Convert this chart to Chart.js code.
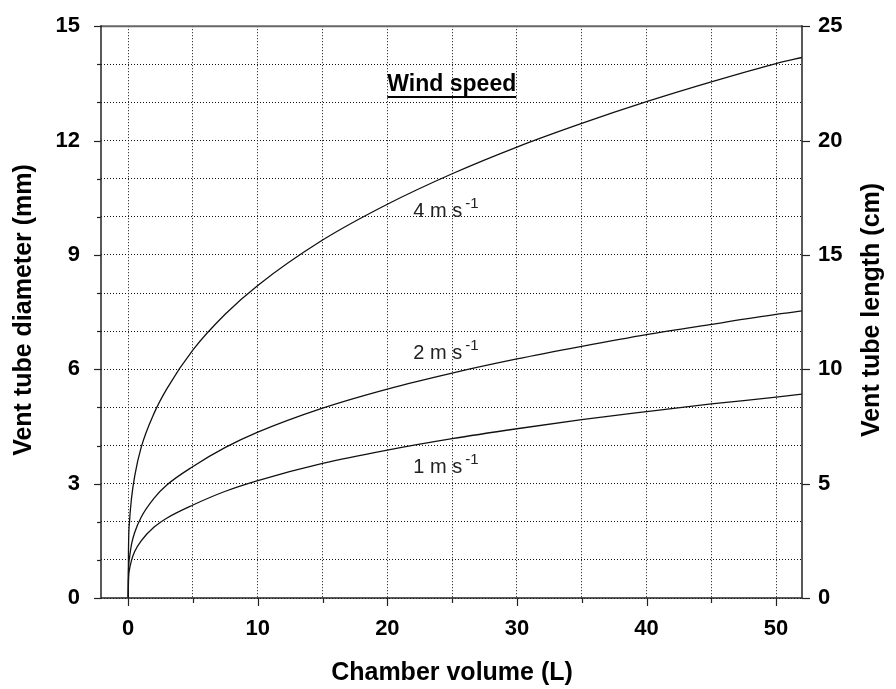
<!DOCTYPE html>
<html>
<head>
<meta charset="utf-8">
<script src="https://cdn.jsdelivr.net/npm/chart.js@4.4.1/dist/chart.umd.min.js"></script>
<style>
  html, body { margin: 0; padding: 0; background: #fff; }
  #wrap { width: 896px; height: 689px; }
</style>
</head>
<body>
<div id="wrap"><canvas id="myChart" width="896" height="689"></canvas></div>
<script>
// Datos
var volume = [0, 0.02, 0.1, 0.25, 0.5, 1, 2, 3, 5, 7.5, 10, 15, 20, 25, 30, 35, 40, 45, 50, 52];
var wind4 = [0, 1.2, 2.0, 2.6, 3.2, 3.95, 4.85, 5.5, 6.51, 7.45, 8.2, 9.39, 10.33, 11.13, 11.83, 12.45, 13.02, 13.54, 14.02, 14.18];
var wind2 = [0, 0.65, 1.05, 1.4, 1.72, 2.12, 2.62, 2.97, 3.45, 3.95, 4.35, 4.98, 5.48, 5.9, 6.27, 6.6, 6.91, 7.18, 7.44, 7.53];
var wind1 = [0, 0.45, 0.75, 0.98, 1.22, 1.5, 1.86, 2.1, 2.44, 2.8, 3.08, 3.53, 3.88, 4.18, 4.44, 4.68, 4.89, 5.09, 5.27, 5.35];

var xTicks = [0, 5, 10, 15, 20, 25, 30, 35, 40, 45, 50];
var yTicks = [0, 1, 2, 3, 4, 5, 6, 7, 8, 9, 10, 11, 12, 13, 14, 15];
var y2Ticks = [0, 5, 10, 15, 20, 25];

// etiquetas de las curvas (posicion en unidades de datos)
var curveLabels = ['4 m s', '2 m s', '1 m s'];
var labelX = [22, 22, 22];
var labelY = [10.0, 6.27, 3.27];

var FONT = '"Liberation Sans", Arial, sans-serif';

function pts(ys) {
  return volume.map(function (v, i) { return { x: v, y: ys[i] }; });
}

function lineSet(ys) {
  return {
    data: pts(ys),
    borderColor: '#111',
    borderWidth: 1.3,
    pointRadius: 0,
    fill: false,
    cubicInterpolationMode: 'monotone'
  };
}

var extras = {
  id: 'extras',
  afterDraw: function (chart) {
    var ctx = chart.ctx, a = chart.chartArea;
    var x = chart.scales.x, y = chart.scales.y, y2 = chart.scales.y2;
    ctx.save();

    function seg(x1, y1, x2, y2_) {
      ctx.beginPath(); ctx.moveTo(x1, y1); ctx.lineTo(x2, y2_); ctx.stroke();
    }

    // marco
    ctx.lineWidth = 2;
    ctx.strokeStyle = '#666';
    seg(a.left, a.top, a.right, a.top);
    ctx.strokeStyle = '#222';
    ctx.lineWidth = 1.5;
    seg(a.left, a.top - 1, a.left, a.bottom);
    seg(a.left, a.bottom, a.right, a.bottom);
    seg(a.right, a.top - 1, a.right, a.bottom);

    // marcas de los ejes
    ctx.lineWidth = 1.2;
    yTicks.forEach(function (v) {
      var py = Math.round(y.getPixelForValue(v)) + 0.5;
      seg(a.left - (v % 3 === 0 ? 7 : 4), py, a.left, py);
    });
    xTicks.forEach(function (v) {
      var px = Math.round(x.getPixelForValue(v)) + 0.5;
      seg(px, a.bottom, px, a.bottom + (v % 10 === 0 ? 8 : 5));
    });
    y2Ticks.forEach(function (v) {
      var py = Math.round(y2.getPixelForValue(v)) + 0.5;
      seg(a.right, py, a.right + 8, py);
    });

    // titulos de los ejes
    ctx.fillStyle = '#000';
    ctx.font = 'bold 25px ' + FONT;
    ctx.textAlign = 'center';
    ctx.textBaseline = 'middle';
    ctx.fillText('Chamber volume (L)', 452, 673);

    ctx.save();
    ctx.translate(24, 310);
    ctx.rotate(-Math.PI / 2);
    ctx.fillText('Vent tube diameter (mm)', 0, 0);
    ctx.restore();

    ctx.save();
    ctx.translate(872, 310);
    ctx.rotate(-Math.PI / 2);
    ctx.fillText('Vent tube length (cm)', 0, 0);
    ctx.restore();

    // leyenda "Wind speed"
    ctx.textAlign = 'left';
    ctx.textBaseline = 'alphabetic';
    ctx.font = 'bold 23px ' + FONT;
    var wx = x.getPixelForValue(20), wy = y.getPixelForValue(13.3);
    var ww = ctx.measureText('Wind speed').width;
    ctx.fillText('Wind speed', wx, wy);
    ctx.lineWidth = 2;
    ctx.strokeStyle = '#000';
    seg(wx, wy + 6, wx + ww, wy + 6);

    // etiquetas de las curvas con superindice
    ctx.fillStyle = '#222';
    curveLabels.forEach(function (t, i) {
      var px = x.getPixelForValue(labelX[i]), py = y.getPixelForValue(labelY[i]);
      ctx.font = '20px ' + FONT;
      ctx.fillText(t, px, py);
      var w = ctx.measureText(t).width;
      ctx.font = '15px ' + FONT;
      ctx.fillText('-1', px + w + 3, py - 9);
    });

    ctx.restore();
  }
};

var ctx = document.getElementById('myChart').getContext('2d');

var data = {
  datasets: [lineSet(wind4), lineSet(wind2), lineSet(wind1)]
};

var options = {
  responsive: false,
  animation: false,
  layout: { padding: { top: 26, left: 0, right: 0, bottom: 0 } },
  plugins: { legend: { display: false }, tooltip: { enabled: false } },
  scales: {
    x: {
      type: 'linear',
      min: -2.1,
      max: 52,
      afterBuildTicks: function (s) { s.ticks = xTicks.map(function (v) { return { value: v }; }); },
      afterFit: function (s) { s.height = 91; },
      ticks: {
        autoSkip: false,
        maxRotation: 0,
        padding: 10,
        color: '#000',
        font: { family: FONT, size: 22, weight: 'bold' },
        callback: function (v) { return v % 10 === 0 ? String(v) : ''; }
      },
      grid: { color: '#111', lineWidth: 1, tickLength: 8, tickColor: 'rgba(0,0,0,0)' },
      border: { display: false, dash: [1, 2] }
    },
    y: {
      type: 'linear',
      position: 'left',
      min: 0,
      max: 15,
      afterBuildTicks: function (s) { s.ticks = yTicks.map(function (v) { return { value: v }; }); },
      afterFit: function (s) { s.width = 101; },
      ticks: {
        autoSkip: false,
        padding: 13,
        color: '#000',
        font: { family: FONT, size: 22, weight: 'bold' },
        callback: function (v) { return v % 3 === 0 ? String(v) : ''; }
      },
      grid: { color: '#111', lineWidth: 1, tickLength: 8, tickColor: 'rgba(0,0,0,0)' },
      border: { display: false, dash: [1, 2] }
    },
    y2: {
      type: 'linear',
      position: 'right',
      min: 0,
      max: 25,
      afterBuildTicks: function (s) { s.ticks = y2Ticks.map(function (v) { return { value: v }; }); },
      afterFit: function (s) { s.width = 94; },
      ticks: {
        autoSkip: false,
        padding: 8,
        color: '#000',
        font: { family: FONT, size: 22, weight: 'bold' }
      },
      grid: { drawOnChartArea: false, tickLength: 8, tickColor: 'rgba(0,0,0,0)' },
      border: { display: false }
    }
  }
};

var myChart = new Chart(ctx, {
  type: 'line',
  data: data,
  options: options,
  plugins: [extras]
});
</script>
</body>
</html>
